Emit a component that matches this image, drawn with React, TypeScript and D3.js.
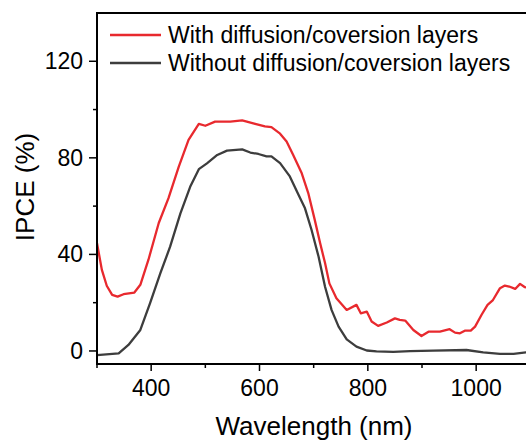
import React from "react";
import * as d3 from "d3";

const wavelengthsWith = [300,309,318,328,338,349,369,380,395,414,432,451,469,488,500,518,546,568,592,610,622,638,650,662,678,690,702,712,721,729,742,761,779,787,798,807,819,835,850,859,869,884,899,912,933,951,961,970,979,990,998,1010,1021,1031,1044,1053,1061,1072,1081,1090,1100];
const ipceWith = [44.6,33.6,27,23.2,22.5,23.5,24.2,27.4,37.8,53,63.3,76.4,87.4,94.1,93.3,95,95,95.5,94.1,93,92.7,90,86.8,81.3,73.6,65.4,54.3,44.6,36.4,28,21.8,17,19.1,15.6,16.3,12.2,10.4,11.8,13.5,12.9,12.6,8.7,6.2,8.0,8.0,9.0,7.6,7.3,8.4,8.4,10.1,15,19.1,21.1,26,27.1,26.7,25.7,27.8,26.4,26];

const wavelengthsWithout = [300,340,358,380,398,417,435,454,472,488,503,522,540,568,583,598,613,622,638,656,672,684,696,709,721,733,746,761,779,798,816,847,878,921,982,1013,1044,1069,1092,1100];
const ipceWithout = [-1.7,-1.0,2.5,8.7,19.8,32.2,43.2,57.0,68,75.3,77.7,81.2,83,83.5,82.2,81.6,80.6,80.6,77.8,72.3,64.7,59.1,50.2,39.1,26.6,17,10.1,4.8,1.8,0.2,-0.2,-0.4,-0.1,0.1,0.4,-0.6,-1.2,-1.2,-0.6,-0.5];

const xMajorTicks = [400, 600, 800, 1000];
const xMinorTicks = [300, 500, 700, 900, 1100];
const yMajorTicks = [0, 40, 80, 120];
const yMinorTicks = [20, 60, 100];

const seriesNames = ["With diffusion/coversion layers", "Without diffusion/coversion layers"];
const seriesColors = ["#e8292e", "#3d3d3d"];

const W = 526, H = 441;
const left = 97, top = 13, bottom = 364;
const font = "'Liberation Sans', Arial, sans-serif";

export default function App() {
  const x = d3.scaleLinear().domain([300, 1100]).range([left, left + 800 * 0.54167]);
  const y = d3.scaleLinear().domain([-5.4, 140]).range([bottom, top]);
  const right = x(1100);
  const line = d3.line<[number, number]>().x(d => x(d[0])).y(d => y(d[1]));
  const dWith = line(wavelengthsWith.map((w, i) => [w, ipceWith[i]]) as [number, number][]) || "";
  const dWithout = line(wavelengthsWithout.map((w, i) => [w, ipceWithout[i]]) as [number, number][]) || "";

  return (
    <svg width={W} height={H} style={{ position: "absolute", left: 0, top: 0, display: "block", background: "#fff" }} fontFamily={font}>
      <defs>
        <clipPath id="plotClip">
          <rect x={left} y={top} width={right - left} height={bottom - top} />
        </clipPath>
      </defs>
      <g clipPath="url(#plotClip)" fill="none" strokeWidth={2.3} strokeLinejoin="round">
        <path d={dWithout} stroke={seriesColors[1]} />
        <path d={dWith} stroke={seriesColors[0]} />
      </g>
      {/* frame */}
      <line x1={left} x2={right} y1={top} y2={top} stroke="#000" strokeWidth={2} />
      <line x1={left} x2={right} y1={bottom} y2={bottom} stroke="#000" strokeWidth={2} />
      <line x1={left} x2={left} y1={top - 1} y2={bottom + 1} stroke="#000" strokeWidth={2} />
      {/* x ticks */}
      {xMajorTicks.map(t => (
        <g key={"xm" + t}>
          <line x1={x(t)} x2={x(t)} y1={bottom} y2={bottom + 7} stroke="#000" strokeWidth={1.5} />
          <text x={x(t)} y={396} textAnchor="middle" fontSize={23} fill="#000">{t}</text>
        </g>
      ))}
      {xMinorTicks.map(t => (
        <line key={"xn" + t} x1={x(t)} x2={x(t)} y1={bottom} y2={bottom + 4} stroke="#000" strokeWidth={1.5} />
      ))}
      {/* y ticks */}
      {yMajorTicks.map(t => (
        <g key={"ym" + t}>
          <line x1={left - 8} x2={left} y1={y(t)} y2={y(t)} stroke="#000" strokeWidth={1.5} />
          <text x={83} y={y(t) + 8} textAnchor="end" fontSize={23} fill="#000">{t}</text>
        </g>
      ))}
      {yMinorTicks.map(t => (
        <line key={"yn" + t} x1={left - 4} x2={left} y1={y(t)} y2={y(t)} stroke="#000" strokeWidth={1.5} />
      ))}
      {/* axis titles */}
      <text x={314} y={435} textAnchor="middle" fontSize={26} fill="#000">Wavelength (nm)</text>
      <text transform="translate(34,187) rotate(-90)" textAnchor="middle" fontSize={26} fill="#000">IPCE (%)</text>
      {/* legend */}
      {seriesNames.map((name, i) => (
        <g key={name}>
          <line x1={110} x2={161} y1={35 + i * 28} y2={35 + i * 28} stroke={seriesColors[i]} strokeWidth={2.3} />
          <text x={168} y={43 + i * 28} fontSize={23} fill="#000">{name}</text>
        </g>
      ))}
    </svg>
  );
}
